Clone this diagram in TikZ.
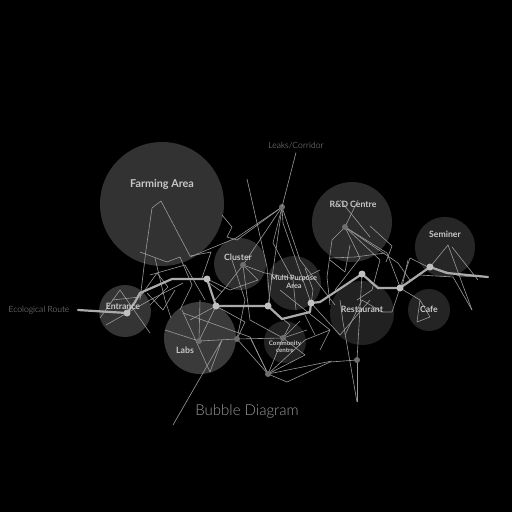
\documentclass[tikz,border=0pt]{standalone}
\usepackage{fontspec}
\setmainfont{Lato}
\newfontfamily\lightfont{Lato}[UprightFont=* Light]
\definecolor{bgc}{HTML}{000000}
\definecolor{wire}{HTML}{9A9A9A}
\definecolor{route}{HTML}{ABABAB}
\definecolor{lbl}{HTML}{C8C8C8}
\definecolor{faint}{HTML}{9A9A9A}
\definecolor{hub}{HTML}{6E6E6E}
\definecolor{lit}{HTML}{C0C0C0}
\begin{document}
\begin{tikzpicture}[x=1pt,y=-1pt,
  bub/.style={circle,draw=none,inner sep=0pt},
  blabel/.style={text=lbl,font=\bfseries\fontsize{8.7}{9}\selectfont,inner sep=0pt},
  slabel/.style={text=lbl,font=\bfseries\fontsize{7.3}{8.3}\selectfont,inner sep=0pt,align=center},
  xlabel/.style={text=lbl,font=\bfseries\fontsize{6.2}{7}\selectfont,inner sep=0pt,align=center},
  thin/.style={font=\lightfont\fontsize{8.6}{9}\selectfont,text=faint,inner sep=0pt},
  wireline/.style={draw=wire,line width=0.6pt,line join=round},
  routeline/.style={draw=route,line width=2.2pt,line join=round,line cap=round},
  litdot/.style={circle,fill=lit,inner sep=0pt,minimum size=7pt},
  hubdot/.style={circle,fill=hub,inner sep=0pt,minimum size=6pt}]
\fill[bgc] (0,0) rectangle (512,512);
\useasboundingbox (0,0) rectangle (512,512);

% bubbles
\node[bub,fill={rgb,255:red,50;green,50;blue,50},minimum size=124pt] (farm) at (162,204) {};
\node[bub,fill={rgb,255:red,46;green,46;blue,46},minimum size=52pt] (clus) at (240,264) {};
\node[bub,fill={rgb,255:red,44;green,44;blue,44},minimum size=80pt] (rdc) at (352,222) {};
\node[bub,fill={rgb,255:red,38;green,38;blue,38},minimum size=60pt] (semi) at (445,247) {};
\node[bub,fill={rgb,255:red,38;green,38;blue,38},minimum size=54pt] (multi) at (294,283) {};
\node[bub,fill={rgb,255:red,33;green,33;blue,33},minimum size=64pt] (rest) at (362,313) {};
\node[bub,fill={rgb,255:red,36;green,36;blue,36},minimum size=42pt] (cafe) at (429,310) {};
\node[bub,fill={rgb,255:red,34;green,34;blue,34},minimum size=42pt] (comm) at (285,342) {};
\node[bub,fill={rgb,255:red,52;green,52;blue,52},minimum size=52pt] (entr) at (125,311) {};
\node[bub,fill={rgb,255:red,58;green,58;blue,58},minimum size=72pt] (labs) at (200,338) {};

% hubs
\coordinate (leak) at (282,207);
\coordinate (rd) at (345,227);
\coordinate (cl) at (243,265);
\coordinate (lab) at (199,341);
\coordinate (sq) at (237,339);
\coordinate (cc) at (283,338);
\coordinate (cb) at (268,374);
\coordinate (rs) at (357,360);
\coordinate (eco) at (78,310);
\coordinate (rend) at (488,277);

% wire web
\draw[wireline] (140,300) -- (146,250) -- (152,208) -- (161,201) -- (190,256) -- (211,252) -- (202,278) -- (222,292);
\draw[wireline] (140,252) -- (167,262) -- (180,257) -- (192,285) -- (180,310);
\draw[wireline] (155,258) -- (165,300) -- (171,318);
\draw[wireline] (222,215) -- (232,227) -- (227,237) -- (237,240) -- (leak);
\draw[wireline] (leak) -- (236,238) -- (190,257);
\draw[wireline] (150,275) -- (185,265) -- (205,300);
\draw[wireline] (100,318) -- (120,290) -- (150,333);
\draw[wireline] (112,300) -- (140,297) -- (157,273) -- (168,287) -- (150,305);
\draw[wireline] (147,293) -- (163,310) -- (175,290);
\draw[wireline] (106,325) -- (150,300) -- (183,283);
\draw[wireline] (173,425) -- (222,340) -- (210,372) -- (182,310);
\draw[wireline] (lab) -- (sq) -- (cc) -- (307,330);
\draw[wireline] (183,313) -- (250,337) -- (cb);
\draw[wireline] (sq) -- (cb) -- (cc);
\draw[wireline] (lab) -- (216,306) -- (190,320);
\draw[wireline] (216,306) -- (245,322) -- (sq);
\draw[wireline] (200,300) -- (lab) -- (165,330);
\draw[wireline] (leak) -- (cl) -- (226,287) -- (215,300);
\draw[wireline] (cl) -- (265,273) -- (300,280) -- (320,270);
\draw[wireline] (247,179) -- (267,267) -- (270,306);
\draw[wireline] (leak) -- (268,306);
\draw[wireline] (leak) -- (283,223) -- (311,303);
\draw[wireline] (leak) -- (273,243) -- (293,280) -- (296,310);
\draw[wireline] (cl) -- (250,320) -- (cc);
\draw[wireline] (leak) -- (300,260) -- (335,305);
\draw[wireline] (232,260) -- (245,300) -- (sq);
\draw[wireline] (207,279) -- (230,290) -- (258,280) -- (cl);
\draw[wireline] (268,306) -- (290,325) -- (cc) -- (305,355) -- (cb);
\draw[wireline] (280,290) -- (330,330) -- (320,350);
\draw[wireline] (rd) -- (358,200);
\draw[wireline] (340,200) -- (370,237);
\draw[wireline] (rd) -- (332,240) -- (327,277) -- (330,305);
\draw[wireline] (rd) -- (398,263) -- (410,280);
\draw[wireline] (rd) -- (387,253) -- (400,287);
\draw[wireline] (rd) -- (360,258) -- (335,290);
\draw[wireline] (rd) -- (380,260) -- (372,290) -- (357,300);
\draw[wireline] (350,245) -- (345,272) -- (330,260);
\draw[wireline] (370,226) -- (392,246) -- (386,262);
\draw[wireline] (330,258) -- (355,257) -- (385,253);
\draw[wireline] (rs) -- (362,274);
\draw[wireline] (357,402) -- (343,322) -- (340,300);
\draw[wireline] (357,402) -- (rs);
\draw[wireline] (cb) -- (287,382) -- (330,362) -- (rs);
\draw[wireline] (cb) -- (332,361);
\draw[wireline] (392,312) -- (410,258) -- (430,268);
\draw[wireline] (345,335) -- (362,300) -- (382,312) -- (392,312);
\draw[wireline] (311,303) -- (340,335) -- (370,300);
\draw[wireline] (430,267) -- (448,245) -- (472,310);
\draw[wireline] (452,247) -- (478,280);
\draw[wireline] (408,260) -- (402,287);
\draw[wireline] (417,322) -- (430,317) -- (420,300) -- cycle;
\draw[wireline] (400,288) -- (420,300);
\draw[wireline] (420,275) -- (453,277) -- (472,310);
\draw[wireline] (cc) -- (300,321);
\draw[wireline] (cb) -- (305,340) -- (330,330);
\draw[wireline] (250,337) -- (cb);
\draw[wireline] (310,312) -- (313,290) -- (305,268);
\draw[wireline] (305,315) -- (315,335);
\draw[wireline] (430,267) -- (460,276) -- (rend);

% route
\draw[routeline] (eco) -- (127,313) -- (135,302) -- (140,293) -- (172,279) -- (207,279) -- (216,306) -- (268,306) -- (282,319) -- (310,312) -- (311,303) -- (320,302) -- (362,274) -- (378,288) -- (400,288) -- (430,267) -- (447,273) -- (rend);

% dots
\foreach \p/\n in {{127,313}/d1,{207,279}/d2,{216,306}/d3,{268,306}/d4,{311,303}/d5,{362,274}/d6,{400,288}/d7,{430,267}/d8}
  \node[litdot] (\n) at (\p) {};
\foreach \c/\n in {leak/h1,rd/h2,cl/h3,lab/h4,sq/h5,cc/h6,cb/h7,rs/h8}
  \node[hubdot] (\n) at (\c) {};

% labels
\node[text=lbl,font=\bfseries\fontsize{10.8}{11}\selectfont,inner sep=0pt] (farmL) at (162,184) {Farming Area};
\node[blabel] (clusL) at (238,257) {Cluster};
\node[blabel] (rdL) at (353,204) {R\&D Centre};
\node[blabel] (semiL) at (445,234) {Seminer};
\node[slabel] (multiL) at (294,282) {Multi Purpose\\Area};
\node[blabel] (restL) at (362,309) {Restaurant};
\node[blabel] (cafeL) at (429,309) {Cafe};
\node[xlabel] (commL) at (285,347) {Community\\centre};
\node[blabel] (entrL) at (123,306) {Entrance};
\node[blabel] (labsL) at (185,350) {Labs};
\node[thin] (ecoL) at (39,310) {Ecological Route};
\node[thin] (leakL) at (296,146) {Leaks/Corridor};
\draw[wireline] (leakL.south) ++(0,3) coordinate (lk) (lk) -- (leak);
\node[text=faint,font=\lightfont\fontsize{15}{16}\selectfont,inner sep=0pt] (title) at (247,411) {Bubble Diagram};
\end{tikzpicture}
\end{document}
